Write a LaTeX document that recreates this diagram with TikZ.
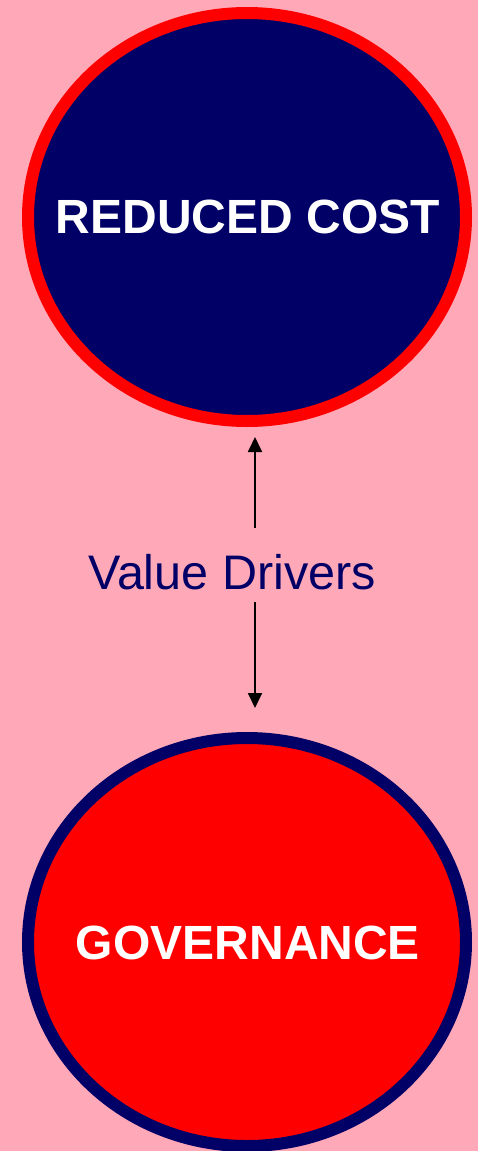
\documentclass[tikz,border=0pt]{standalone}
\usepackage{fontspec}
\setmainfont{Liberation Sans}
\usetikzlibrary{shapes.geometric,arrows.meta}
\definecolor{bgpink}{RGB}{255,168,184}
\definecolor{navy}{RGB}{0,0,102}
\definecolor{pred}{RGB}{255,0,0}
\begin{document}
\begin{tikzpicture}[x=1pt,y=1pt,
  oval/.style={ellipse,minimum width=438pt,minimum height=408pt,line width=12pt,inner sep=0pt},
  bigtxt/.style={text=white,font=\fontsize{48}{56}\selectfont\bfseries,inner sep=0pt},
  conn/.style={line width=1.8pt,-{Triangle[length=15pt,width=14pt]}}]
\fill[bgpink] (0,0) rectangle (478,-1151);
\useasboundingbox (0,0) rectangle (478,-1151);
\node[oval,draw=pred,fill=navy] (top) at (247,-217) {};
\node[bigtxt] (toplbl) at (248,-217) {REDUCED COST};
\node[oval,draw=navy,fill=pred] (bot) at (247,-942) {};
\node[bigtxt] (botlbl) at (248,-943) {GOVERNANCE};
\node[text=navy,font=\fontsize{48.5}{56}\selectfont,inner sep=0pt] (vd) at (232,-572) {Value Drivers};
\coordinate (a1) at (255,-528);
\coordinate (a2) at (255,-602);
\draw[conn,shorten >=10pt] (a1) -- (a1 |- top.south);
\draw[conn,shorten >=24pt] (a2) -- (a2 |- bot.north);
\end{tikzpicture}
\end{document}
